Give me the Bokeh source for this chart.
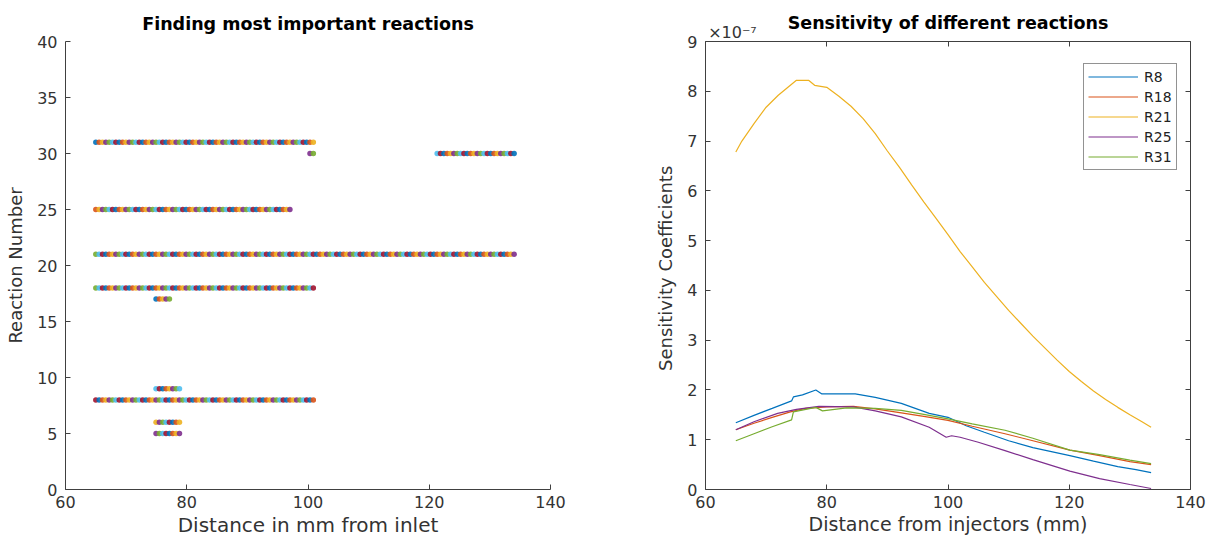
import numpy as np
from bokeh.plotting import figure
from bokeh.layouts import row
from bokeh.models import (Range1d, LinearAxis, Legend, LegendItem, FixedTicker,
                          ColumnDataSource, CustomJSTickFormatter)
from bokeh.embed import file_html
from bokeh.resources import INLINE

# ---------------- data ----------------
matlab_colors = ["#0072BD", "#D95319", "#EDB120", "#7E2F8E", "#77AC30", "#4DBEEE", "#A2142F"]

# Left panel: reactions flagged as important along the distance grid
grid_start_mm = 65.0
grid_end_mm = 134.0
grid_points = 126
reaction_numbers = [31, 30, 30, 25, 21, 18, 17, 9, 8, 6, 5]
segment_start_mm = [65.0, 99.8, 121.3, 65.0, 65.0, 65.0, 74.7, 74.7, 65.0, 74.7, 74.7]
segment_end_mm = [101.0, 101.0, 134.0, 97.5, 134.0, 101.0, 77.2, 79.3, 101.0, 79.3, 79.3]

# Right panel: sensitivity coefficients (x 1e-7)
r8_x = [65, 68, 71, 74.2, 74.5, 76, 78.2, 79.2, 84.7, 88, 92.3, 96.9, 100, 103, 106, 110, 114, 120.1, 124, 128, 131, 133.5]
r8_y = [1.34, 1.49, 1.63, 1.78, 1.86, 1.90, 2.00, 1.92, 1.92, 1.85, 1.73, 1.53, 1.45, 1.28, 1.15, 0.98, 0.84, 0.68, 0.57, 0.46, 0.40, 0.34]

r18_x = [65, 68, 71, 74, 76.5, 80, 84.4, 88, 92.3, 96, 100, 104, 109.4, 114, 120.1, 125, 130, 133.5]
r18_y = [1.20, 1.33, 1.45, 1.56, 1.63, 1.66, 1.67, 1.62, 1.54, 1.47, 1.39, 1.27, 1.12, 0.98, 0.79, 0.68, 0.56, 0.50]

r21_x = [65, 66, 68, 70, 72, 74, 75, 77, 78, 80, 82, 84, 86, 88, 90, 92, 94, 96, 98, 100, 102, 104, 106, 108, 110, 112, 114, 116, 118, 120, 122, 124, 126, 128, 130, 132, 133.5]
r21_y = [6.78, 7.00, 7.35, 7.68, 7.92, 8.12, 8.22, 8.22, 8.12, 8.08, 7.90, 7.70, 7.45, 7.15, 6.80, 6.47, 6.12, 5.78, 5.45, 5.12, 4.78, 4.47, 4.16, 3.88, 3.60, 3.34, 3.08, 2.84, 2.60, 2.37, 2.17, 1.98, 1.81, 1.65, 1.50, 1.36, 1.25]

r25_x = [65, 68, 71.9, 75, 78.7, 84.4, 88, 92.3, 96.9, 99.7, 100.6, 102, 105, 109.4, 114, 120.1, 125, 130, 133.5]
r25_y = [1.20, 1.36, 1.53, 1.61, 1.67, 1.66, 1.58, 1.46, 1.25, 1.05, 1.08, 1.05, 0.95, 0.78, 0.60, 0.37, 0.22, 0.10, 0.02]

r31_x = [65, 68, 71, 74.2, 74.5, 78.2, 79.3, 83.3, 88, 92.3, 96, 100, 104, 109.4, 114, 120.1, 125, 130, 133.5]
r31_y = [0.98, 1.12, 1.26, 1.40, 1.56, 1.65, 1.58, 1.64, 1.63, 1.59, 1.51, 1.42, 1.32, 1.19, 1.03, 0.79, 0.70, 0.59, 0.52]

series_names = ["R8", "R18", "R21", "R25", "R31"]
series_x = [r8_x, r18_x, r21_x, r25_x, r31_x]
series_y = [r8_y, r18_y, r21_y, r25_y, r31_y]

left_xticks = [60, 80, 100, 120, 140]
left_yticks = [0, 5, 10, 15, 20, 25, 30, 35, 40]
right_xticks = [60, 80, 100, 120, 140]
right_yticks = [0, 1, 2, 3, 4, 5, 6, 7, 8, 9]
exponent_text = "×10⁻⁷"
exponent_anchor_x = [64.45]

# ---------------- styling helpers ----------------
FONT = "DejaVu Sans"
AX_COL = "#404040"
TXT_COL = "#333333"


def style_axis(ax, hidden_labels=False, label_size="18px", horizontal=True):
    ax.major_tick_in = 5
    ax.major_tick_out = 0
    ax.minor_tick_line_color = None
    ax.axis_line_color = AX_COL
    ax.major_tick_line_color = AX_COL
    ax.major_label_text_font = FONT
    ax.major_label_text_font_size = "16px"
    ax.major_label_text_color = TXT_COL
    ax.axis_label_text_font = FONT
    ax.axis_label_text_font_size = label_size
    ax.axis_label_text_font_style = "normal"
    ax.axis_label_text_color = TXT_COL
    if horizontal:
        ax.major_label_standoff = 6
        ax.axis_label_standoff = 2
    else:
        ax.major_label_standoff = 8
        ax.axis_label_standoff = 8
    if hidden_labels:
        ax.major_label_text_font_size = "1px"
        ax.major_label_text_color = None
        ax.major_label_standoff = 0


# ---------------- left panel ----------------
p1 = figure(width=640, height=541, x_range=Range1d(60, 140), y_range=Range1d(0, 40),
            output_backend="svg", toolbar_location=None,
            min_border_left=65, min_border_right=90, min_border_top=41, min_border_bottom=52,
            title="Finding most important reactions")
p1.title.align = "center"
p1.title.text_font = FONT
p1.title.text_font_size = "17.5px"
p1.title.text_font_style = "bold"
p1.title.text_color = "#000000"
p1.title.standoff = 15
p1.outline_line_color = None
p1.grid.visible = False
p1.xaxis.ticker = FixedTicker(ticks=left_xticks)
p1.yaxis.ticker = FixedTicker(ticks=left_yticks)
p1.xaxis.axis_label = "Distance in mm from inlet"
p1.yaxis.axis_label = "Reaction Number"
style_axis(p1.xaxis[0], label_size="20px")
style_axis(p1.yaxis[0], label_size="18px", horizontal=False)

grid = np.linspace(grid_start_mm, grid_end_mm, grid_points)
xs, ys, cs = [], [], []
k = 0
for rn, a, b in zip(reaction_numbers, segment_start_mm, segment_end_mm):
    for g in grid:
        if a - 1e-9 <= g <= b + 1e-9:
            xs.append(float(g))
            ys.append(rn)
            cs.append(matlab_colors[k % len(matlab_colors)])
            k += 1
src = ColumnDataSource(dict(x=xs, y=ys, c=cs))
p1.scatter("x", "y", source=src, size=5.5, fill_color="c", line_color=None, fill_alpha=0.9)

# ---------------- right panel ----------------
p2 = figure(width=568, height=541, x_range=Range1d(60, 140), y_range=Range1d(0, 9),
            output_backend="svg", toolbar_location=None,
            min_border_left=65, min_border_right=18, min_border_top=41, min_border_bottom=52)
p2.outline_line_color = None
p2.grid.visible = False
p2.xaxis.ticker = FixedTicker(ticks=right_xticks)
p2.yaxis.ticker = FixedTicker(ticks=right_yticks)
p2.xaxis.axis_label = "Distance from injectors (mm)"
p2.yaxis.axis_label = "Sensitivity  Coefficients"
style_axis(p2.xaxis[0], label_size="19px")
style_axis(p2.yaxis[0], label_size="18px", horizontal=False)

# box ticks on top and right
top_ax = LinearAxis(ticker=FixedTicker(ticks=right_xticks))
style_axis(top_ax, hidden_labels=True)
p2.add_layout(top_ax, "above")
right_ax = LinearAxis(ticker=FixedTicker(ticks=right_yticks))
style_axis(right_ax, hidden_labels=True, horizontal=False)
p2.add_layout(right_ax, "right")

# exponent marker + panel title carried by an extra top axis
title_ax = LinearAxis(ticker=FixedTicker(ticks=exponent_anchor_x),
                      formatter=CustomJSTickFormatter(code="return '%s';" % exponent_text))
title_ax.axis_line_color = None
title_ax.major_tick_line_color = None
title_ax.major_tick_in = 0
title_ax.major_tick_out = 0
title_ax.minor_tick_line_color = None
title_ax.major_label_text_font = FONT
title_ax.major_label_text_font_size = "16px"
title_ax.major_label_text_color = TXT_COL
title_ax.major_label_standoff = 0
title_ax.axis_label = "Sensitivity of different reactions"
title_ax.axis_label_text_font = FONT
title_ax.axis_label_text_font_size = "17.5px"
title_ax.axis_label_text_font_style = "bold"
title_ax.axis_label_text_color = "#000000"
title_ax.axis_label_standoff = -13
p2.add_layout(title_ax, "above")

items = []
for name, sx, sy, col in zip(series_names, series_x, series_y, matlab_colors):
    r = p2.line(sx, sy, line_color=col, line_width=1.2)
    items.append(LegendItem(label=name, renderers=[r]))

legend = Legend(items=items, location=(378, 319))
legend.label_text_font = FONT
legend.label_text_font_size = "14px"
legend.label_text_color = "#222222"
legend.glyph_width = 50
legend.glyph_height = 17
legend.label_height = 17
legend.spacing = 3
legend.padding = 4
legend.margin = 0
legend.label_standoff = 6
legend.border_line_color = "#262626"
legend.border_line_width = 1
legend.background_fill_alpha = 1
p2.add_layout(legend)

layout = row(p1, p2)
open("out.html", "w").write(file_html(layout, INLINE))
